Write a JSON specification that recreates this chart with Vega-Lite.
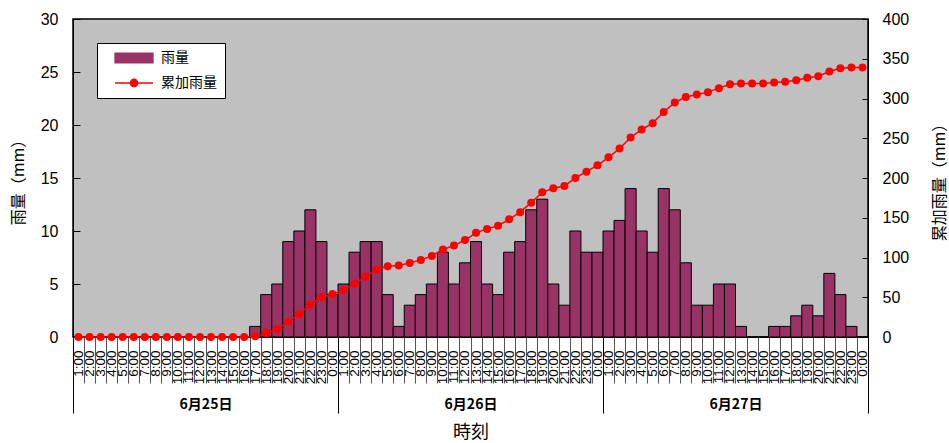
{
  "$schema": "https://vega.github.io/schema/vega-lite/v6.json",
  "width": 795,
  "height": 318,
  "autosize": {"type": "none"},
  "padding": {"left": 73, "top": 19, "right": 81, "bottom": 106},
  "background": "white",
  "config": {
    "font": "Noto Sans CJK JP",
    "view": {"fill": "#c0c0c0", "stroke": "black", "strokeWidth": 1.5},
    "axis": {
      "grid": false,
      "labelColor": "black",
      "titleColor": "black",
      "domainColor": "black",
      "tickColor": "black",
      "titleFontWeight": "normal"
    },
    "legend": {
      "title": null,
      "orient": "top-left",
      "offset": 24,
      "fillColor": "white",
      "strokeColor": "black",
      "padding": 8,
      "labelFont": "Noto Sans CJK JP",
      "labelFontSize": 14,
      "labelColor": "black",
      "symbolSize": 100,
      "labelOffset": 42,
      "rowPadding": 10
    }
  },
  "data": {
    "values": [
      {"t": "6/25 1:00", "day": "6月25日", "rain": 0, "cum": 0},
      {"t": "6/25 2:00", "day": "6月25日", "rain": 0, "cum": 0},
      {"t": "6/25 3:00", "day": "6月25日", "rain": 0, "cum": 0},
      {"t": "6/25 4:00", "day": "6月25日", "rain": 0, "cum": 0},
      {"t": "6/25 5:00", "day": "6月25日", "rain": 0, "cum": 0},
      {"t": "6/25 6:00", "day": "6月25日", "rain": 0, "cum": 0},
      {"t": "6/25 7:00", "day": "6月25日", "rain": 0, "cum": 0},
      {"t": "6/25 8:00", "day": "6月25日", "rain": 0, "cum": 0},
      {"t": "6/25 9:00", "day": "6月25日", "rain": 0, "cum": 0},
      {"t": "6/25 10:00", "day": "6月25日", "rain": 0, "cum": 0},
      {"t": "6/25 11:00", "day": "6月25日", "rain": 0, "cum": 0},
      {"t": "6/25 12:00", "day": "6月25日", "rain": 0, "cum": 0},
      {"t": "6/25 13:00", "day": "6月25日", "rain": 0, "cum": 0},
      {"t": "6/25 14:00", "day": "6月25日", "rain": 0, "cum": 0},
      {"t": "6/25 15:00", "day": "6月25日", "rain": 0, "cum": 0},
      {"t": "6/25 16:00", "day": "6月25日", "rain": 0, "cum": 0},
      {"t": "6/25 17:00", "day": "6月25日", "rain": 1, "cum": 1},
      {"t": "6/25 18:00", "day": "6月25日", "rain": 4, "cum": 5},
      {"t": "6/25 19:00", "day": "6月25日", "rain": 5, "cum": 10},
      {"t": "6/25 20:00", "day": "6月25日", "rain": 9, "cum": 19},
      {"t": "6/25 21:00", "day": "6月25日", "rain": 10, "cum": 29},
      {"t": "6/25 22:00", "day": "6月25日", "rain": 12, "cum": 41},
      {"t": "6/25 23:00", "day": "6月25日", "rain": 9, "cum": 50},
      {"t": "6/25 0:00", "day": "6月25日", "rain": 4, "cum": 54},
      {"t": "6/26 1:00", "day": "6月26日", "rain": 5, "cum": 59},
      {"t": "6/26 2:00", "day": "6月26日", "rain": 8, "cum": 67},
      {"t": "6/26 3:00", "day": "6月26日", "rain": 9, "cum": 76},
      {"t": "6/26 4:00", "day": "6月26日", "rain": 9, "cum": 85},
      {"t": "6/26 5:00", "day": "6月26日", "rain": 4, "cum": 89},
      {"t": "6/26 6:00", "day": "6月26日", "rain": 1, "cum": 90},
      {"t": "6/26 7:00", "day": "6月26日", "rain": 3, "cum": 93},
      {"t": "6/26 8:00", "day": "6月26日", "rain": 4, "cum": 97},
      {"t": "6/26 9:00", "day": "6月26日", "rain": 5, "cum": 102},
      {"t": "6/26 10:00", "day": "6月26日", "rain": 8, "cum": 110},
      {"t": "6/26 11:00", "day": "6月26日", "rain": 5, "cum": 115},
      {"t": "6/26 12:00", "day": "6月26日", "rain": 7, "cum": 122},
      {"t": "6/26 13:00", "day": "6月26日", "rain": 9, "cum": 131},
      {"t": "6/26 14:00", "day": "6月26日", "rain": 5, "cum": 136},
      {"t": "6/26 15:00", "day": "6月26日", "rain": 4, "cum": 140},
      {"t": "6/26 16:00", "day": "6月26日", "rain": 8, "cum": 148},
      {"t": "6/26 17:00", "day": "6月26日", "rain": 9, "cum": 157},
      {"t": "6/26 18:00", "day": "6月26日", "rain": 12, "cum": 169},
      {"t": "6/26 19:00", "day": "6月26日", "rain": 13, "cum": 182},
      {"t": "6/26 20:00", "day": "6月26日", "rain": 5, "cum": 187},
      {"t": "6/26 21:00", "day": "6月26日", "rain": 3, "cum": 190},
      {"t": "6/26 22:00", "day": "6月26日", "rain": 10, "cum": 200},
      {"t": "6/26 23:00", "day": "6月26日", "rain": 8, "cum": 208},
      {"t": "6/26 0:00", "day": "6月26日", "rain": 8, "cum": 216},
      {"t": "6/27 1:00", "day": "6月27日", "rain": 10, "cum": 226},
      {"t": "6/27 2:00", "day": "6月27日", "rain": 11, "cum": 237},
      {"t": "6/27 3:00", "day": "6月27日", "rain": 14, "cum": 251},
      {"t": "6/27 4:00", "day": "6月27日", "rain": 10, "cum": 261},
      {"t": "6/27 5:00", "day": "6月27日", "rain": 8, "cum": 269},
      {"t": "6/27 6:00", "day": "6月27日", "rain": 14, "cum": 283},
      {"t": "6/27 7:00", "day": "6月27日", "rain": 12, "cum": 295},
      {"t": "6/27 8:00", "day": "6月27日", "rain": 7, "cum": 302},
      {"t": "6/27 9:00", "day": "6月27日", "rain": 3, "cum": 305},
      {"t": "6/27 10:00", "day": "6月27日", "rain": 3, "cum": 308},
      {"t": "6/27 11:00", "day": "6月27日", "rain": 5, "cum": 313},
      {"t": "6/27 12:00", "day": "6月27日", "rain": 5, "cum": 318},
      {"t": "6/27 13:00", "day": "6月27日", "rain": 1, "cum": 319},
      {"t": "6/27 14:00", "day": "6月27日", "rain": 0, "cum": 319},
      {"t": "6/27 15:00", "day": "6月27日", "rain": 0, "cum": 319},
      {"t": "6/27 16:00", "day": "6月27日", "rain": 1, "cum": 320},
      {"t": "6/27 17:00", "day": "6月27日", "rain": 1, "cum": 321},
      {"t": "6/27 18:00", "day": "6月27日", "rain": 2, "cum": 323},
      {"t": "6/27 19:00", "day": "6月27日", "rain": 3, "cum": 326},
      {"t": "6/27 20:00", "day": "6月27日", "rain": 2, "cum": 328},
      {"t": "6/27 21:00", "day": "6月27日", "rain": 6, "cum": 334},
      {"t": "6/27 22:00", "day": "6月27日", "rain": 4, "cum": 338},
      {"t": "6/27 23:00", "day": "6月27日", "rain": 1, "cum": 339},
      {"t": "6/27 0:00", "day": "6月27日", "rain": 0, "cum": 339}
    ]
  },
  "layer": [
    {
      "mark": {"type": "bar", "stroke": "black", "strokeWidth": 1},
      "encoding": {
        "x": {
          "field": "t",
          "type": "ordinal",
          "sort": null,
          "scale": {"type": "band", "paddingInner": 0, "paddingOuter": 0},
          "axis": {
            "orient": "bottom",
            "title": null,
            "labelExpr": "split(datum.value, ' ')[1]",
            "labelAngle": -90,
            "labelAlign": "right",
            "labelBaseline": "middle",
            "labelFont": "Liberation Sans",
            "labelFontSize": 13.5,
            "labelOverlap": false,
            "labelPadding": -33,
            "tickBand": "extent",
            "tickSize": 46,
            "tickColor": "#555555",
            "domainColor": "black"
          }
        },
        "y": {
          "field": "rain",
          "type": "quantitative",
          "scale": {"domain": [0, 30], "nice": false},
          "axis": {
            "orient": "left",
            "title": "雨量（mm）",
            "titleFontSize": 16,
            "titlePadding": 14,
            "values": [0, 5, 10, 15, 20, 25, 30],
            "labelFont": "Liberation Sans",
            "labelFontSize": 16,
            "tickSize": -7,
            "labelPadding": 22
          }
        },
        "color": {
          "datum": "雨量",
          "type": "nominal",
          "scale": {"domain": ["雨量", "累加雨量"], "range": ["#993366", "#ff0000"]},
          "legend": {
            "encode": {
              "symbols": {
                "update": {
                  "shape": {"signal": "datum.value === '雨量' ? 'M0.6,-0.95H8.2V0.95H0.6Z' : 'M0.6,0H8.2M3.65,0A0.75,0.75 0 1,1 5.15,0A0.75,0.75 0 1,1 3.65,0Z'"},
                  "fill": {"signal": "datum.value === '雨量' ? '#993366' : '#ff0000'"},
                  "stroke": {"signal": "datum.value === '雨量' ? 'black' : '#ff0000'"},
                  "strokeWidth": {"value": 1.3},
                  "opacity": {"value": 1},
                  "fillOpacity": {"value": 1}
                }
              }
            }
          }
        }
      }
    },
    {
      "mark": {"type": "line", "strokeWidth": 1.5, "point": {"filled": true, "size": 64}},
      "encoding": {
        "x": {
          "field": "t",
          "type": "ordinal",
          "sort": null,
          "scale": {"type": "point", "padding": 0.5},
          "axis": null
        },
        "y": {
          "field": "cum",
          "type": "quantitative",
          "scale": {"domain": [0, 400], "nice": false},
          "axis": {
            "orient": "right",
            "title": "累加雨量（mm）",
            "titleFontSize": 16,
            "titleAngle": -90,
            "titlePadding": 39,
            "values": [0, 50, 100, 150, 200, 250, 300, 350, 400],
            "labelFont": "Liberation Sans",
            "labelFontSize": 16,
            "tickSize": -6,
            "labelPadding": 20
          }
        },
        "color": {
          "datum": "累加雨量",
          "type": "nominal",
          "legend": {
            "encode": {
              "symbols": {
                "update": {
                  "shape": {"signal": "datum.value === '雨量' ? 'M0.6,-0.95H8.2V0.95H0.6Z' : 'M0.6,0H8.2M3.65,0A0.75,0.75 0 1,1 5.15,0A0.75,0.75 0 1,1 3.65,0Z'"},
                  "fill": {"signal": "datum.value === '雨量' ? '#993366' : '#ff0000'"},
                  "stroke": {"signal": "datum.value === '雨量' ? 'black' : '#ff0000'"},
                  "strokeWidth": {"value": 1.3},
                  "opacity": {"value": 1},
                  "fillOpacity": {"value": 1}
                }
              }
            }
          }
        }
      }
    },
    {
      "mark": {"type": "rule", "opacity": 0},
      "encoding": {
        "x": {
          "field": "day",
          "type": "ordinal",
          "sort": null,
          "scale": {"type": "band", "paddingInner": 0, "paddingOuter": 0},
          "axis": {
            "orient": "bottom",
            "title": "時刻",
            "titleFontSize": 18,
            "titlePadding": 10,
            "labelAngle": 0,
            "labelFont": "Noto Sans CJK JP",
            "labelFontSize": 14,
            "labelFontWeight": "bold",
            "labelPadding": -16,
            "tickBand": "extent",
            "tickSize": 76,
            "tickColor": "black",
            "domain": false
          }
        }
      }
    }
  ],
  "resolve": {
    "scale": {"x": "independent", "y": "independent"},
    "axis": {"x": "independent", "y": "independent"}
  }
}
